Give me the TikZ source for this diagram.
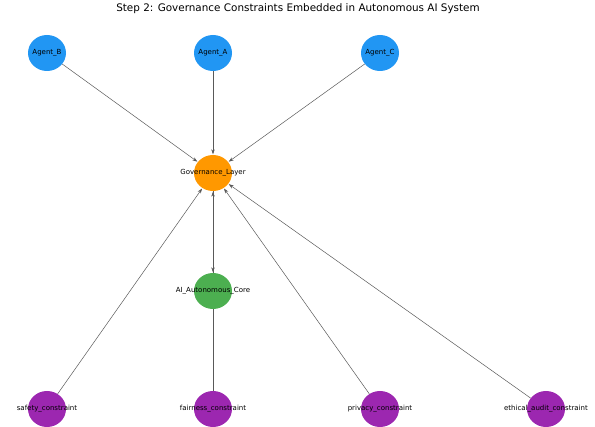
\documentclass[tikz,border=0pt]{standalone}
\usepackage{fontspec}
\setmainfont{DejaVu Sans}
\usetikzlibrary{shapes.geometric,backgrounds,arrows.meta}
\definecolor{agentblue}{RGB}{33,150,243}
\definecolor{govorange}{RGB}{255,152,0}
\definecolor{coregreen}{RGB}{76,175,80}
\definecolor{rulepurple}{RGB}{156,39,176}
\tikzset{
    blob/.style={ellipse, minimum width=38pt, minimum height=36pt, inner sep=0pt,
        label={[font=\fontsize{7}{8}\selectfont]center:#1}},
    edge/.style={draw=gray!70!black, line width=0.5pt, -{Stealth[length=5pt,width=3.5pt]}, shorten >=0.5pt}
}
\begin{document}
\begin{tikzpicture}[x=1pt, y=-1pt]
    \useasboundingbox (0, 0) rectangle (595, 427);
    \node at(298, 9) {\fontsize{10.4}{11}\selectfont Step 2: Governance Constraints Embedded in Autonomous AI System};
    % agents
    \node[blob=Agent\_B, fill=agentblue] (agB) at(47, 53) {};
    \node[blob=Agent\_A, fill=agentblue] (agA) at(213, 53) {};
    \node[blob=Agent\_C, fill=agentblue] (agC) at(380, 53) {};
    % middle
    \node[blob=Governance\_Layer, fill=govorange] (gov) at(213, 173) {};
    \node[blob=AI\_Autonomous\_Core, fill=coregreen] (core) at(213, 291) {};
    % constraints
    \node[blob=safety\_constraint, fill=rulepurple] (safety) at(47, 409) {};
    \node[blob=fairness\_constraint, fill=rulepurple] (fair) at(213, 409) {};
    \node[blob=privacy\_constraint, fill=rulepurple] (priv) at(380, 409) {};
    \node[blob=ethical\_audit\_constraint, fill=rulepurple] (ethic) at(546, 409) {};
    \begin{pgfonlayer}{background}
    \draw[edge] (agB) -- (gov);
    \draw[edge] (agA) -- (gov);
    \draw[edge] (agC) -- (gov);
    \draw[edge] (gov) -- (core);
    \draw[edge] (safety) -- (gov);
    \draw[edge] (fair) -- (gov);
    \draw[edge] (priv) -- (gov);
    \draw[edge] (ethic) -- (gov);
    \end{pgfonlayer}
\end{tikzpicture}
\end{document}
